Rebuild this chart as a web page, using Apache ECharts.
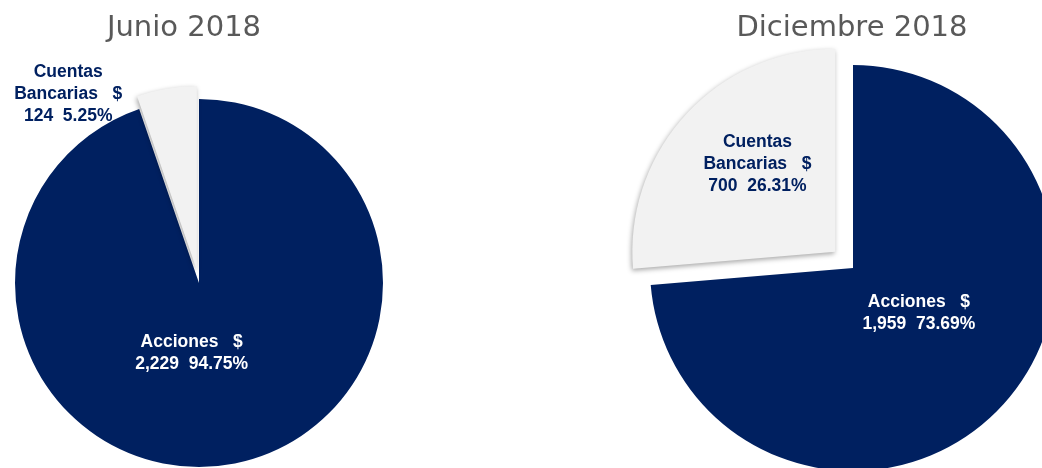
<!DOCTYPE html>
<html>
<head>
<meta charset="utf-8">
<script src="https://cdn.jsdelivr.net/npm/echarts@6/dist/echarts.min.js"></script>
<style>
  html, body { margin: 0; padding: 0; background: #fff; }
  #chart { width: 1042px; height: 468px; }
</style>
</head>
<body>
<div id="chart"></div>
<script>
// datos de cada corte
var periodos = ['Junio 2018', 'Diciembre 2018'];
var categorias = ['Acciones', 'Cuentas Bancarias'];
var montosJunio = [2229, 124];
var montosDiciembre = [1959, 700];
var pctJunio = ['94.75%', '5.25%'];
var pctDiciembre = ['73.69%', '26.31%'];

var azul = '#002060';
var gris = '#F2F2F2';

var chart = echarts.init(document.getElementById('chart'));

function fmtMonto(v) {
  return v.toLocaleString('en-US');
}

// texto de etiqueta, como en el original
function etiqueta(nombre, monto, pct) {
  if (nombre === 'Cuentas Bancarias') {
    return 'Cuentas\nBancarias   $\n' + fmtMonto(monto) + '  ' + pct;
  }
  return nombre + '   $\n' + fmtMonto(monto) + '  ' + pct;
}

function armarDatos(montos, pcts) {
  return categorias.map(function (c, i) {
    var esCuenta = i === 1;
    var color = esCuenta ? gris : azul;
    return {
      name: c,
      value: montos[i],
      selected: esCuenta,
      itemStyle: esCuenta ? {
        color: color,
        shadowBlur: 5,
        shadowOffsetX: -1,
        shadowOffsetY: 2,
        shadowColor: 'rgba(0,0,0,0.35)'
      } : { color: color },
      select: { itemStyle: { color: color } },
      label: {
        formatter: etiqueta(c, montos[i], pcts[i]),
        color: esCuenta ? azul : '#ffffff'
      }
    };
  });
}

// ajustes de posicion de etiquetas [dx, dy] por indice
var ajusteJunio = [[-23, -24], [-113, -82]];
var ajusteDiciembre = [[-11, -26], [-1, -17]];

var etiquetaBase = {
  show: true,
  position: 'inside',
  fontFamily: 'Liberation Sans, Arial, sans-serif',
  fontWeight: 'bold',
  fontSize: 17.5,
  lineHeight: 22,
  align: 'center'
};

option = {
  animation: false,
  title: [
    {
      text: periodos[0],
      left: 179,
      top: 9,
      textAlign: 'center',
      textStyle: { color: '#595959', fontFamily: 'DejaVu Sans', fontWeight: 'normal', fontSize: 29 }
    },
    {
      text: periodos[1],
      left: 847,
      top: 9,
      textAlign: 'center',
      textStyle: { color: '#595959', fontFamily: 'DejaVu Sans', fontWeight: 'normal', fontSize: 29 }
    }
  ],
  series: [
    {
      name: periodos[0],
      type: 'pie',
      center: [199, 283],
      radius: 184,
      startAngle: 90,
      selectedMode: 'multiple',
      selectedOffset: 13,
      label: etiquetaBase,
      labelLine: { show: false },
      labelLayout: function (p) {
        return { dx: ajusteJunio[p.dataIndex][0], dy: ajusteJunio[p.dataIndex][1] };
      },
      emphasis: { disabled: true },
      data: armarDatos(montosJunio, pctJunio)
    },
    {
      name: periodos[1],
      type: 'pie',
      center: [853, 268],
      radius: 203,
      startAngle: 90,
      selectedMode: 'multiple',
      selectedOffset: 24,
      label: etiquetaBase,
      labelLine: { show: false },
      labelLayout: function (p) {
        return { dx: ajusteDiciembre[p.dataIndex][0], dy: ajusteDiciembre[p.dataIndex][1] };
      },
      emphasis: { disabled: true },
      data: armarDatos(montosDiciembre, pctDiciembre)
    }
  ]
};
chart.setOption(option);
</script>
</body>
</html>
